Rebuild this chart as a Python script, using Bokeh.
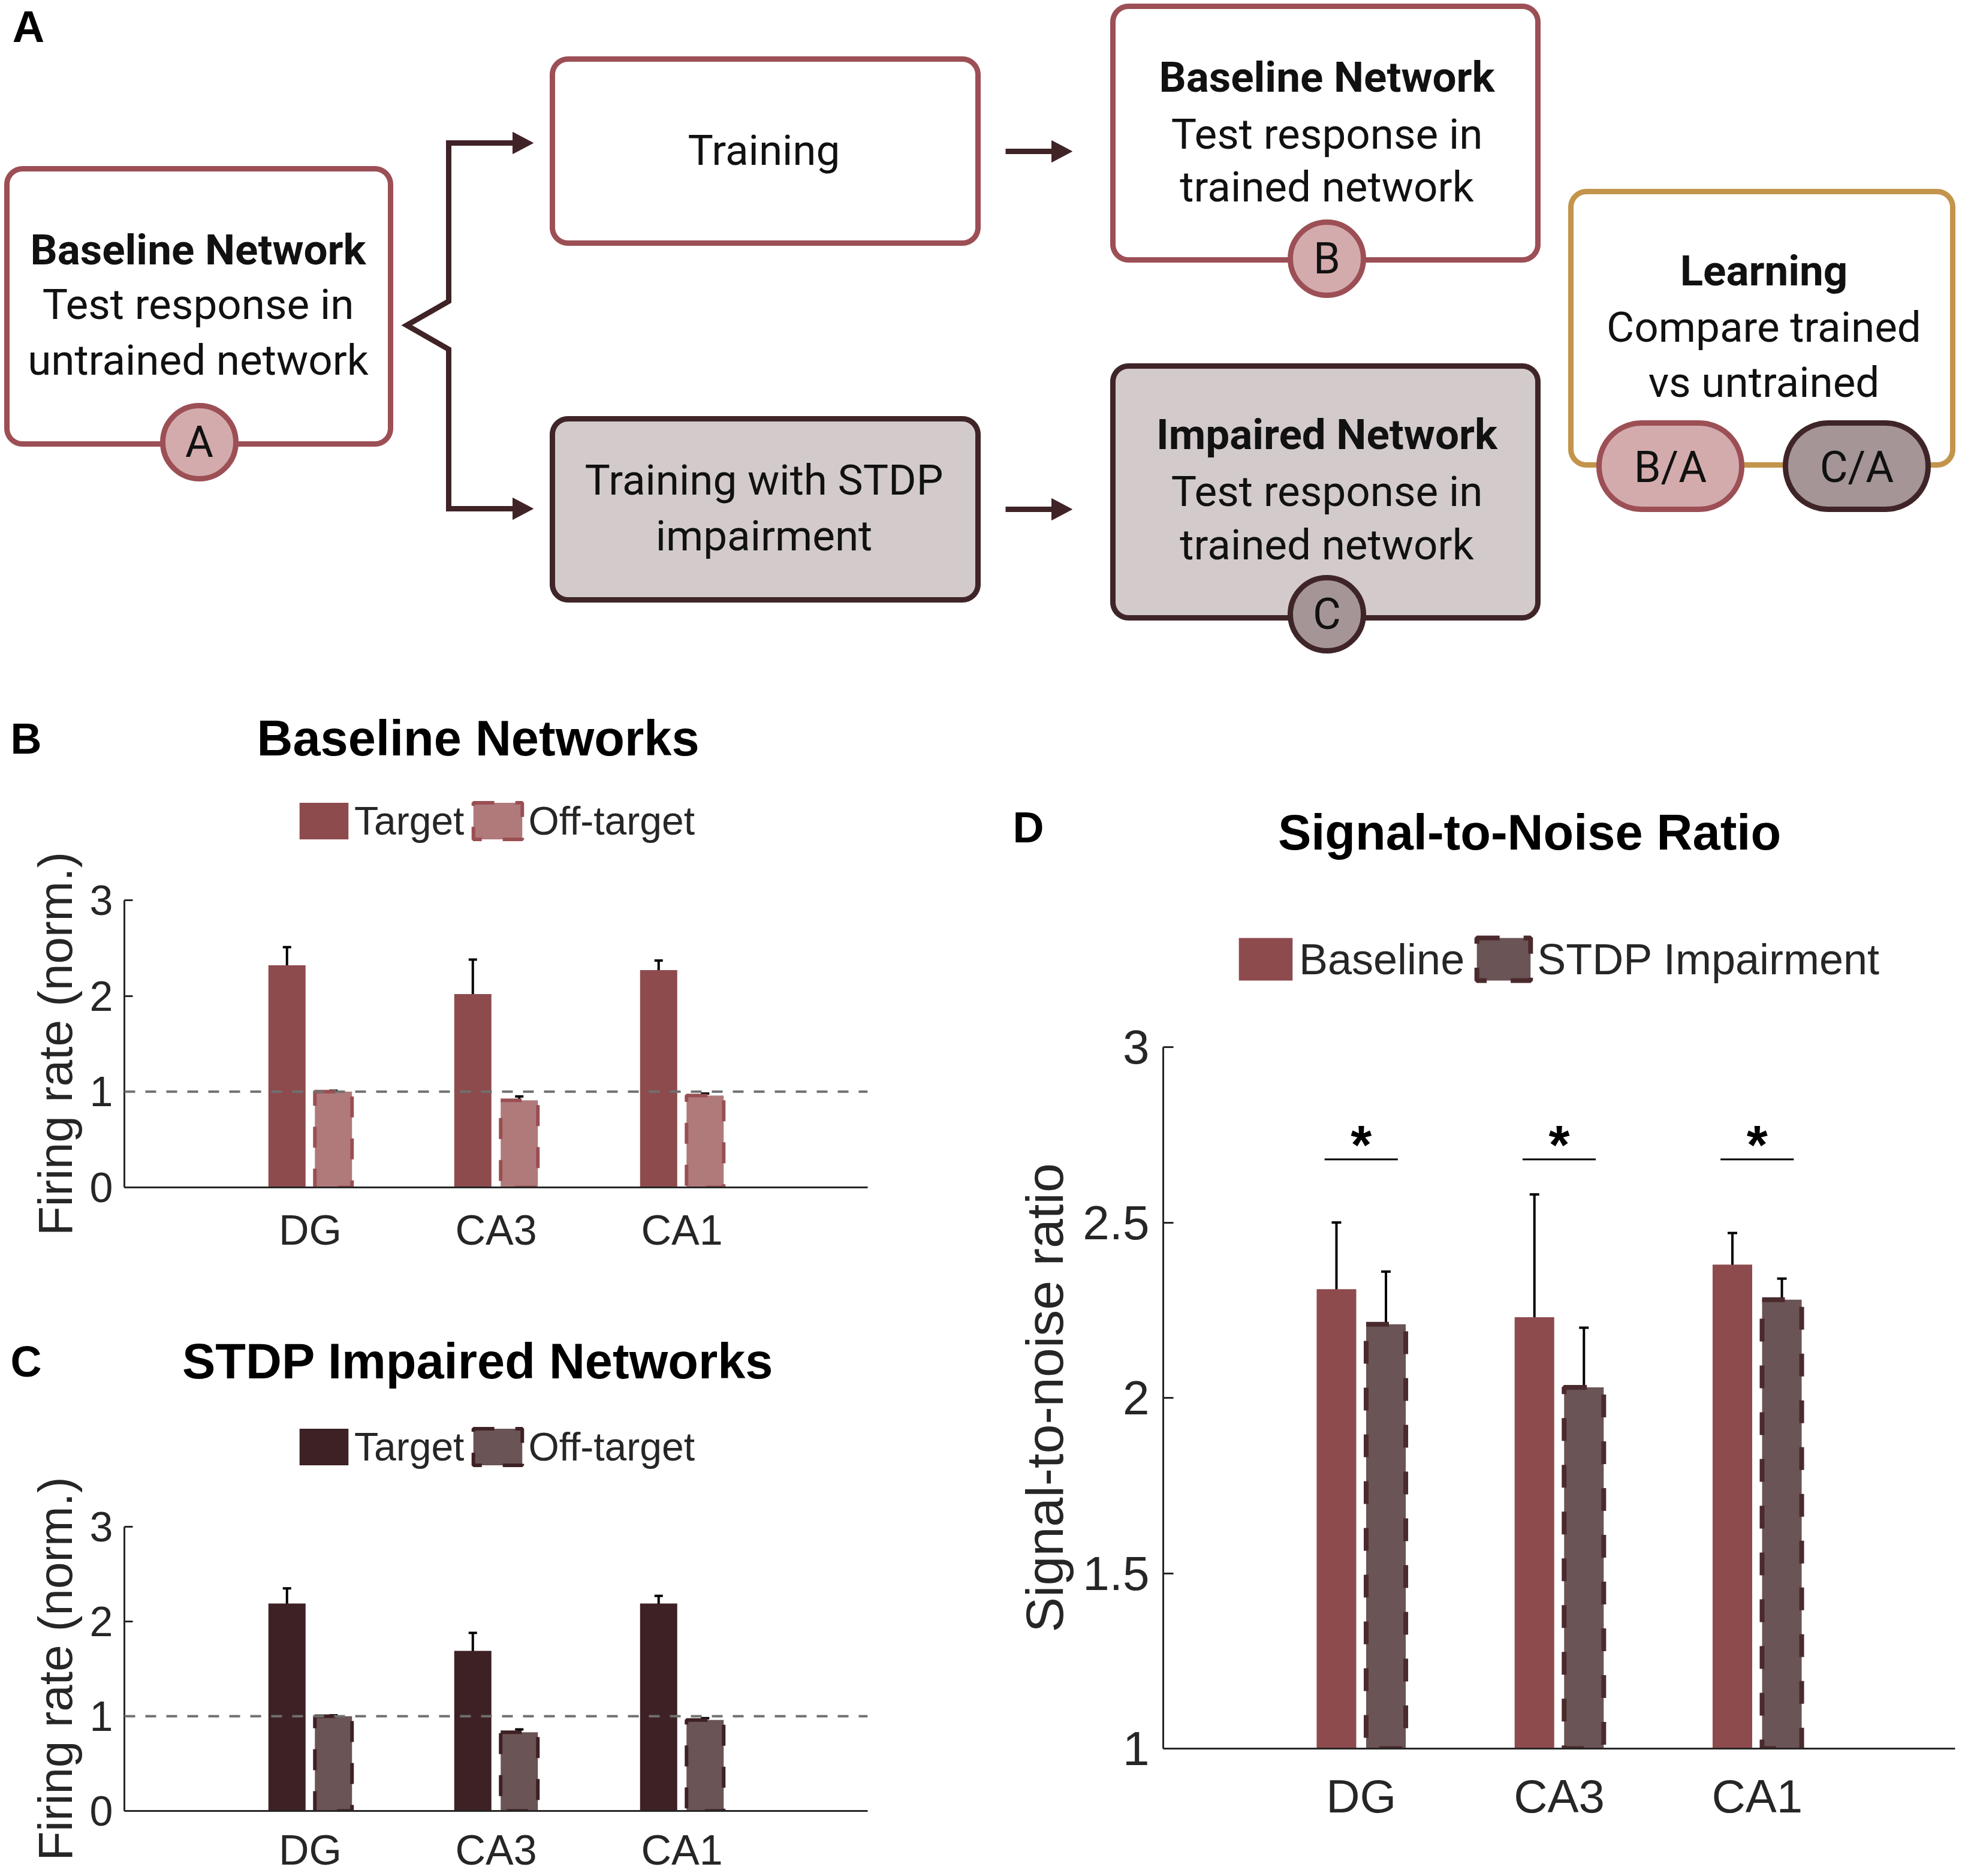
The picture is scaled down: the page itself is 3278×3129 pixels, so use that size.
import numpy as np
from bokeh.plotting import figure
from bokeh.models import (Range1d, FixedTicker, Legend, LegendItem, Span,
                          Whisker, TeeHead, ColumnDataSource)
from bokeh.layouts import column, row
from bokeh.embed import file_html
from bokeh.resources import INLINE
from bokeh.core.properties import value

# ---------------- data ----------------
regions = ["DG", "CA3", "CA1"]
cat_x = [1, 2, 3]

base_target = [2.32, 2.02, 2.27]
base_target_lo = [2.12, 1.66, 2.17]
base_target_hi = [2.51, 2.38, 2.37]
base_off = [1.00, 0.91, 0.96]
base_off_lo = [0.99, 0.87, 0.94]
base_off_hi = [1.01, 0.95, 0.98]

stdp_target = [2.19, 1.69, 2.19]
stdp_target_lo = [2.03, 1.51, 2.11]
stdp_target_hi = [2.35, 1.88, 2.27]
stdp_off = [1.00, 0.83, 0.96]
stdp_off_lo = [0.99, 0.80, 0.94]
stdp_off_hi = [1.01, 0.86, 0.98]

snr_base = [2.31, 2.23, 2.38]
snr_base_lo = [2.12, 1.88, 2.29]
snr_base_hi = [2.50, 2.58, 2.47]
snr_stdp = [2.21, 2.03, 2.28]
snr_stdp_lo = [2.06, 1.86, 2.21]
snr_stdp_hi = [2.36, 2.20, 2.34]
sig_y = [2.68, 2.68, 2.68]
sig_marks = ["*", "*", "*"]

fr_ticks = [0, 1, 2, 3]
snr_ticks = [1, 1.5, 2, 2.5, 3]
snr_tick_labels = ["1", "1.5", "2", "2.5", "3"]

# ---------------- styles ----------------
FONT = "Liberation Sans"
AX = "#262626"
RED = "#8e4b4e"
RED_LIGHT = "#b07a7b"
RED_EDGE = "#9a4f53"
DARK = "#3e2124"
MAUVE = "#6b5455"
MAUVE_EDGE = "#4a2a2d"

BOX_RED = "#9c4f55"
PINK = "#d4abad"
BOX_DARK = "#3f2528"
GRAY = "#d3cbcb"
CIRC_DARK = "#a59597"
GOLD = "#c3944b"
ARROW = "#3f2326"


def rrect(x0, y0, x1, y1, r, n=16):
    xs, ys = [], []
    corners = [(x1 - r, y0 + r, -90, 0), (x1 - r, y1 - r, 0, 90),
               (x0 + r, y1 - r, 90, 180), (x0 + r, y0 + r, 180, 270)]
    for cx, cy, a0, a1 in corners:
        for a in np.linspace(np.radians(a0), np.radians(a1), n):
            xs.append(cx + r * np.cos(a))
            ys.append(cy + r * np.sin(a))
    return xs, ys


def canvas(w, h, x0, y0):
    """A figure whose frame is the whole canvas, in page pixel coordinates (y down)."""
    p = figure(width=w, height=h, x_range=Range1d(x0, x0 + w), y_range=Range1d(y0 + h, y0),
               x_axis_location=None, y_axis_location=None, min_border=0,
               toolbar_location=None, output_backend="svg", title=None, frame_align=False)
    p.grid.visible = False
    p.outline_line_color = None
    return p


def put_text(p, x, y, txt, size, bold=False, font=FONT, color="black"):
    p.text(x=[x], y=[y], text=[txt], text_font=value(font),
           text_font_style="bold" if bold else "normal", text_font_size=size,
           text_align="center", text_baseline="middle", text_color=color)


# ---------------- panel A (schematic) ----------------
pA = canvas(3276, 1148, 0, 0)

BW = 9
boxes = [
    ((11, 281, 651, 740), "white", BOX_RED),
    ((921, 98, 1631, 405), "white", BOX_RED),
    ((921, 698, 1631, 1000), GRAY, BOX_DARK),
    ((1856, 10, 2565, 433), "white", BOX_RED),
    ((1856, 610, 2565, 1030), GRAY, BOX_DARK),
    ((2620, 319, 3257, 775), "white", GOLD),
]
for (x0, y0, x1, y1), fc, lc in boxes:
    xs, ys = rrect(x0, y0, x1, y1, 26)
    pA.patch(xs, ys, fill_color=fc, line_color=lc, line_width=BW)

pA.line([860, 748, 748, 678, 748, 748, 860], [238, 238, 502, 542, 582, 848, 848],
        line_color=ARROW, line_width=BW, line_join="miter")
pA.line([1677, 1760], [252, 252], line_color=ARROW, line_width=BW)
pA.line([1677, 1760], [849, 849], line_color=ARROW, line_width=BW)
heads = [(889, 238), (889, 848), (1788, 252), (1788, 849)]
pA.patches([[hx, hx - 34, hx - 34] for hx, hy in heads],
           [[hy, hy - 18, hy + 18] for hx, hy in heads],
           fill_color=ARROW, line_color=ARROW, line_width=1)

circ = [(332, 737, PINK, BOX_RED), (2213, 431, PINK, BOX_RED), (2213, 1024, CIRC_DARK, BOX_DARK)]
for cx, cy, fc, lc in circ:
    pA.ellipse(x=[cx], y=[cy], width=122, height=122, fill_color=fc, line_color=lc, line_width=BW)
pills = [(2786, 777, PINK, BOX_RED), (3097, 777, CIRC_DARK, BOX_DARK)]
for cx, cy, fc, lc in pills:
    xs, ys = rrect(cx - 119, cy - 72, cx + 119, cy + 72, 71)
    pA.patch(xs, ys, fill_color=fc, line_color=lc, line_width=BW)

bold_txt = [(330, 416, "Baseline Network"), (2213, 128, "Baseline Network"),
            (2213, 724, "Impaired Network"), (2942, 451, "Learning")]
reg_txt = [(330, 507, "Test response in"), (330, 600, "untrained network"),
           (1274, 250, "Training"), (1274, 800, "Training with STDP"), (1274, 893, "impairment"),
           (2213, 223, "Test response in"), (2213, 311, "trained network"),
           (2213, 819, "Test response in"), (2213, 908, "trained network"),
           (2942, 545, "Compare trained"), (2942, 637, "vs untrained")]
small_txt = [(332, 737, "A"), (2213, 431, "B"), (2213, 1024, "C"),
             (2786, 779, "B/A"), (3097, 779, "C/A")]
for x, y, t in bold_txt:
    put_text(pA, x, y, t, "71px", bold=True, font="Roboto", color="#111111")
for x, y, t in reg_txt:
    put_text(pA, x, y, t, "71px", font="Roboto", color="#111111")
for x, y, t in small_txt:
    put_text(pA, x, y, t, "72px", font="Roboto", color="#111111")
put_text(pA, 47, 44, "A", "74px", bold=True)


# ---------------- bar panels ----------------
def style_axes(p, ylabel, tick_font, label_font, ylabel_font, tick_in, ystand, lstand, xstand):
    p.grid.visible = False
    p.outline_line_color = None
    p.xaxis.ticker = FixedTicker(ticks=cat_x, minor_ticks=[])
    p.xaxis.major_label_overrides = {c: r for c, r in zip(cat_x, regions)}
    p.xaxis.major_tick_in = 0
    p.xaxis.major_tick_out = 0
    p.xaxis.minor_tick_in = 0
    p.xaxis.minor_tick_out = 0
    p.xaxis.major_label_standoff = xstand
    p.yaxis.major_tick_in = tick_in
    p.yaxis.major_tick_out = 0
    p.yaxis.minor_tick_in = 0
    p.yaxis.minor_tick_out = 0
    p.yaxis.major_label_standoff = ystand
    p.yaxis.axis_label = ylabel
    p.yaxis.axis_label_standoff = lstand
    p.yaxis.axis_label_text_font = FONT
    p.yaxis.axis_label_text_font_style = "normal"
    p.yaxis.axis_label_text_font_size = ylabel_font
    p.yaxis.axis_label_text_color = AX
    for ax in (p.xaxis, p.yaxis):
        ax.axis_line_width = 3
        ax.axis_line_color = AX
        ax.major_tick_line_width = 3
        ax.major_tick_line_color = AX
        ax.major_label_text_font = FONT
        ax.major_label_text_color = AX
    p.xaxis.major_label_text_font_size = label_font
    p.yaxis.major_label_text_font_size = tick_font


def whiskers(p, xs, lo, hi, size):
    src = ColumnDataSource(dict(base=xs, lower=lo, upper=hi))
    p.add_layout(Whisker(base="base", lower="lower", upper="upper", source=src,
                         line_color="black", line_width=4,
                         upper_head=TeeHead(size=size, line_width=4, line_color="black"),
                         lower_head=TeeHead(size=size, line_width=4, line_color="black")))


def header_legend(p, labels, styles, gw, gh, standoff, spacing, margin, size):
    # legend swatches come from hidden proxy bars that share the plotted bars' styles
    items = []
    for lab, st in zip(labels, styles):
        r = p.vbar(x=[0], top=[0], bottom=[0], width=1, visible=False, **st)
        items.append(LegendItem(label=lab, renderers=[r]))
    leg = Legend(items=items, orientation="horizontal", location="bottom_center",
                 glyph_width=gw, glyph_height=gh, label_standoff=standoff, spacing=spacing,
                 padding=0, margin=margin, border_line_color=None, background_fill_alpha=0,
                 inactive_fill_alpha=0,
                 label_text_font=FONT, label_text_font_size=size, label_text_color=AX)
    p.add_layout(leg)


def fr_panel(head_y0, head_h, plot_h, bottom, xstand, title, letter, text_y,
             tvals, tlo, thi, ovals, olo, ohi, tcol, ocol, oedge, leg_margin):
    head = canvas(1648, head_h, 0, head_y0)
    put_text(head, 43, text_y, letter, "72px", bold=True)
    put_text(head, 797, text_y, title, "83px", bold=True)
    tstyle = dict(fill_color=tcol, line_color=None)
    ostyle = dict(fill_color=ocol, line_color=oedge, line_width=6, line_dash="35 35")
    header_legend(head, ["Target", "Off-target"], [tstyle, ostyle], 102, 76, 0, 5,
                  leg_margin, "66px")

    p = figure(width=1648, height=plot_h, x_range=Range1d(0, 4), y_range=Range1d(0, 3),
               min_border_left=207, min_border_right=201, min_border_top=90,
               min_border_bottom=bottom, toolbar_location=None, output_backend="svg",
               title=None, frame_align=False)
    style_axes(p, "Firing rate (norm.)", "70px", "70px", "80px", 14, 19, 10, xstand)
    p.yaxis.ticker = FixedTicker(ticks=fr_ticks, minor_ticks=[])
    xl = [c - 0.125 for c in cat_x]
    xr = [c + 0.125 for c in cat_x]
    p.vbar(x=xl, top=tvals, bottom=0, width=0.2, **tstyle)
    p.vbar(x=xr, top=ovals, bottom=0, width=0.2, **ostyle)
    p.add_layout(Span(location=1, dimension="width", line_color="#707070", line_width=4,
                      line_dash="18 17"))
    whiskers(p, xl, tlo, thi, 14)
    whiskers(p, xr, olo, ohi, 14)
    return head, p


hB, pB = fr_panel(1148, 263, 719, 150, 32, "Baseline Networks", "B", 1231,
                  base_target, base_target_lo, base_target_hi, base_off, base_off_lo, base_off_hi,
                  RED, RED_LIGHT, RED_EDGE, 4)
hC, pC = fr_panel(2130, 326, 671, 104, 26, "STDP Impaired Networks", "C", 2270,
                  stdp_target, stdp_target_lo, stdp_target_hi, stdp_off, stdp_off_lo, stdp_off_hi,
                  DARK, MAUVE, DARK, 5)

# ---------------- panel D ----------------
hD_letter = canvas(266, 508, 1648, 1148)
put_text(hD_letter, 1715, 1379, "D", "72px", bold=True)
hD = canvas(1362, 508, 1914, 1148)
put_text(hD, 2551, 1388, "Signal-to-Noise Ratio", "83px", bold=True)
bstyle = dict(fill_color=RED, line_color=None)
sstyle = dict(fill_color=MAUVE, line_color=MAUVE_EDGE, line_width=8, line_dash="38 40")
header_legend(hD, ["Baseline", "STDP Impairment"], [bstyle, sstyle], 112, 89, 0, 9, 12, "72px")

pD = figure(width=1628, height=1471, x_range=Range1d(0, 4), y_range=Range1d(1, 3),
            min_border_left=292, min_border_right=15, min_border_top=90, min_border_bottom=211,
            toolbar_location=None, output_backend="svg", title=None, frame_align=False)
style_axes(pD, "Signal-to-noise ratio", "80px", "78px", "88px", 17, 23, 11, 35)
pD.yaxis.ticker = FixedTicker(ticks=snr_ticks, minor_ticks=[])
pD.yaxis.major_label_overrides = {t: l for t, l in zip(snr_ticks, snr_tick_labels)}
xl = [c - 0.125 for c in cat_x]
xr = [c + 0.125 for c in cat_x]
pD.vbar(x=xl, top=snr_base, bottom=0, width=0.2, **bstyle)
pD.vbar(x=xr, top=snr_stdp, bottom=0, width=0.2, **sstyle)
whiskers(pD, xl, snr_base_lo, snr_base_hi, 16)
whiskers(pD, xr, snr_stdp_lo, snr_stdp_hi, 16)
pD.segment(x0=[c - 0.185 for c in cat_x], y0=sig_y, x1=[c + 0.185 for c in cat_x], y1=sig_y,
           line_color="black", line_width=3)
pD.text(x=cat_x, y=sig_y, text=sig_marks, text_align="center", text_baseline="alphabetic",
        text_font=value(FONT), text_font_style="bold", text_font_size="90px",
        text_color="black", y_offset=-24)

left_col = column(hB, pB, hC, pC, spacing=0)
right_col = column(row(hD_letter, hD, spacing=0), pD, spacing=0)
layout = column(pA, row(left_col, right_col, spacing=0), spacing=0)
open("out.html", "w").write(file_html(layout, INLINE))
